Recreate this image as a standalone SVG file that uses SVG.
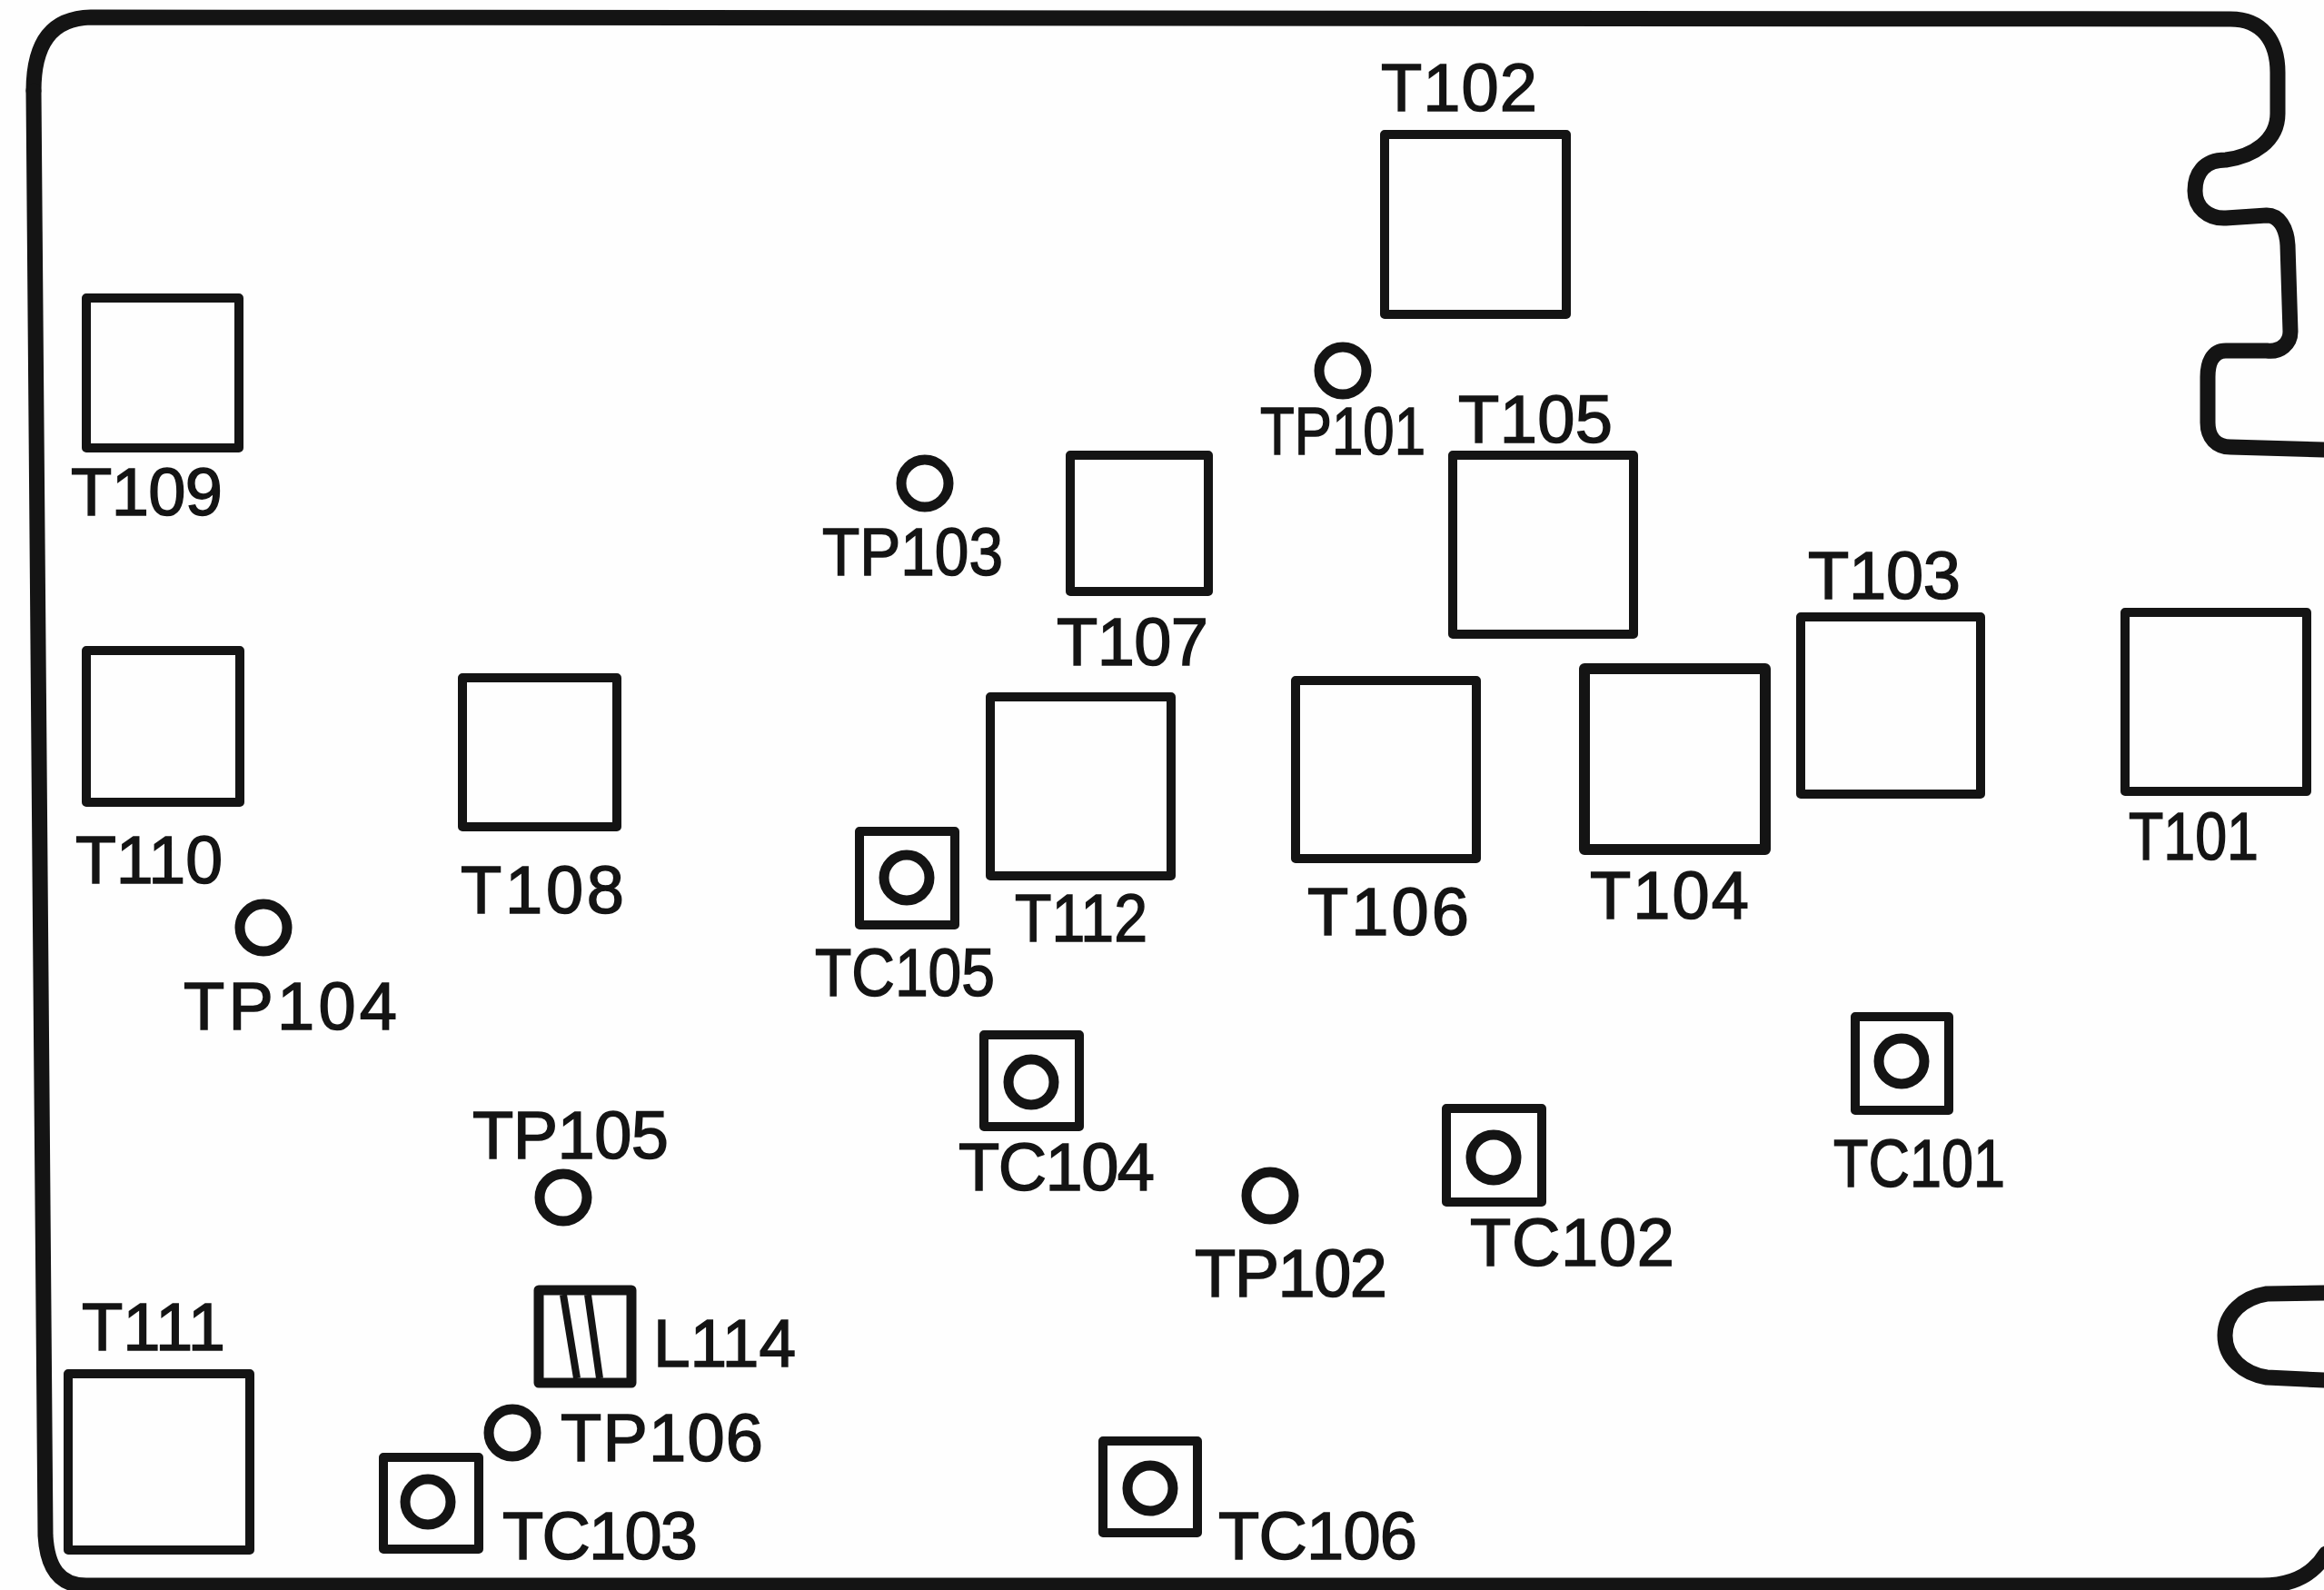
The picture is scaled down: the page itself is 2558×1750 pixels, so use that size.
<svg xmlns="http://www.w3.org/2000/svg" width="2558" height="1750" viewBox="0 0 2558 1750">
<style>
.b{fill:none;stroke:#141414;stroke-width:10;stroke-linejoin:round}
.o{fill:none;stroke:#141414;stroke-width:17;stroke-linecap:round;stroke-linejoin:round}
.c{fill:none;stroke:#141414;stroke-width:11}
.l{fill:none;stroke:#141414;stroke-width:8}
text{font-family:"Liberation Sans",Arial,sans-serif;font-size:74px;fill:#141414;stroke:#141414;stroke-width:1.5}
</style>
<rect width="2558" height="1750" fill="#fefefe"/>
<g id="board">
<path class="o" d="M37 100 C37 50 55 20 100 19 L2455 21 C2490 21 2507 45 2507 80 L2507 125 C2507 155 2480 172 2450 176 C2425 176 2416 192 2416 210 C2416 228 2430 241 2450 240 L2495 237 C2508 237 2517 250 2518 270 L2521 365 C2521 378 2510 388 2495 386 L2450 386 C2435 386 2430 400 2430 415 L2430 465 C2430 482 2440 492 2455 492 L2558 495"/>
<path class="o" d="M2558 1423 L2495 1424 C2470 1428 2449 1445 2449 1470 C2449 1495 2470 1512 2495 1516 L2558 1519"/>
<path class="o" d="M37 100 L50 1690 C52 1725 65 1745 95 1745 L2490 1745 C2520 1745 2545 1735 2560 1710"/>
</g>
<g id="T102"><rect class="b" x="1524" y="148" width="200" height="198"/><text x="1520" y="122" textLength="172">T102</text></g>
<g id="T109"><rect class="b" x="95" y="328" width="168" height="165"/><text x="78" y="567" textLength="167">T109</text></g>
<g id="T110"><rect class="b" x="95" y="716" width="169" height="167"/><text x="83" y="972" textLength="162" lengthAdjust="spacingAndGlyphs">T110</text></g>
<g id="T108"><rect class="b" x="509" y="746" width="170" height="164"/><text x="507" y="1005" textLength="180">T108</text></g>
<g id="T107"><rect class="b" x="1178" y="501" width="152" height="150"/><text x="1163" y="732" textLength="167">T107</text></g>
<g id="T105"><rect class="b" x="1599" y="501" width="199" height="197"/><text x="1605" y="487" textLength="170">T105</text></g>
<g id="T112"><rect class="b" x="1090" y="767" width="199" height="197"/><text x="1117" y="1036" textLength="146" lengthAdjust="spacingAndGlyphs">T112</text></g>
<g id="T106"><rect class="b" x="1426" y="749" width="199" height="196"/><text x="1439" y="1029" textLength="178">T106</text></g>
<g id="T104"><rect class="b" x="1744" y="736" width="199" height="199" style="stroke-width:12"/><text x="1750" y="1011" textLength="175">T104</text></g>
<g id="T103"><rect class="b" x="1982" y="679" width="198" height="195"/><text x="1990" y="659" textLength="168">T103</text></g>
<g id="T101"><rect class="b" x="2339" y="674" width="200" height="197"/><text x="2343" y="946" textLength="143" lengthAdjust="spacingAndGlyphs">T101</text></g>
<g id="T111"><rect class="b" x="75" y="1512" width="200" height="194"/><text x="90" y="1486" textLength="158" lengthAdjust="spacingAndGlyphs">T111</text></g>
<g id="L114"><rect class="b" x="593" y="1420" width="102" height="102" style="stroke-width:11"/><path class="l" d="M620 1425L635 1517M647 1425L660 1517"/><text x="719" y="1504" textLength="157" lengthAdjust="spacingAndGlyphs">L114</text></g>
<g id="TP101"><circle class="c" cx="1478" cy="408" r="26"/><text x="1387" y="500" textLength="182" lengthAdjust="spacingAndGlyphs">TP101</text></g>
<g id="TP102"><circle class="c" cx="1398" cy="1316" r="26"/><text x="1315" y="1427" textLength="212">TP102</text></g>
<g id="TP103"><circle class="c" cx="1018" cy="532" r="26"/><text x="905" y="633" textLength="199" lengthAdjust="spacingAndGlyphs">TP103</text></g>
<g id="TP104"><circle class="c" cx="290" cy="1021" r="26"/><text x="202" y="1133" textLength="235">TP104</text></g>
<g id="TP105"><circle class="c" cx="620" cy="1318" r="26"/><text x="520" y="1275" textLength="216">TP105</text></g>
<g id="TP106"><circle class="c" cx="564" cy="1577" r="26"/><text x="617" y="1608" textLength="223">TP106</text></g>
<g id="TC101"><rect class="b" x="2042" y="1119" width="103" height="103"/><circle class="c" cx="2093" cy="1168" r="25"/><text x="2018" y="1306" textLength="189" lengthAdjust="spacingAndGlyphs">TC101</text></g>
<g id="TC102"><rect class="b" x="1592" y="1220" width="105" height="103"/><circle class="c" cx="1644" cy="1274" r="25"/><text x="1618" y="1393" textLength="225">TC102</text></g>
<g id="TC103"><rect class="b" x="422" y="1604" width="105" height="101"/><circle class="c" cx="471" cy="1653" r="25"/><text x="553" y="1716" textLength="215">TC103</text></g>
<g id="TC104"><rect class="b" x="1083" y="1139" width="105" height="101"/><circle class="c" cx="1135" cy="1191" r="25"/><text x="1055" y="1310" textLength="216">TC104</text></g>
<g id="TC105"><rect class="b" x="946" y="915" width="105" height="103"/><circle class="c" cx="998" cy="966" r="25"/><text x="897" y="1096" textLength="198" lengthAdjust="spacingAndGlyphs">TC105</text></g>
<g id="TC106"><rect class="b" x="1214" y="1586" width="104" height="101"/><circle class="c" cx="1266" cy="1638" r="25"/><text x="1341" y="1716" textLength="219">TC106</text></g>
<g id="connectors"/>
</svg>
